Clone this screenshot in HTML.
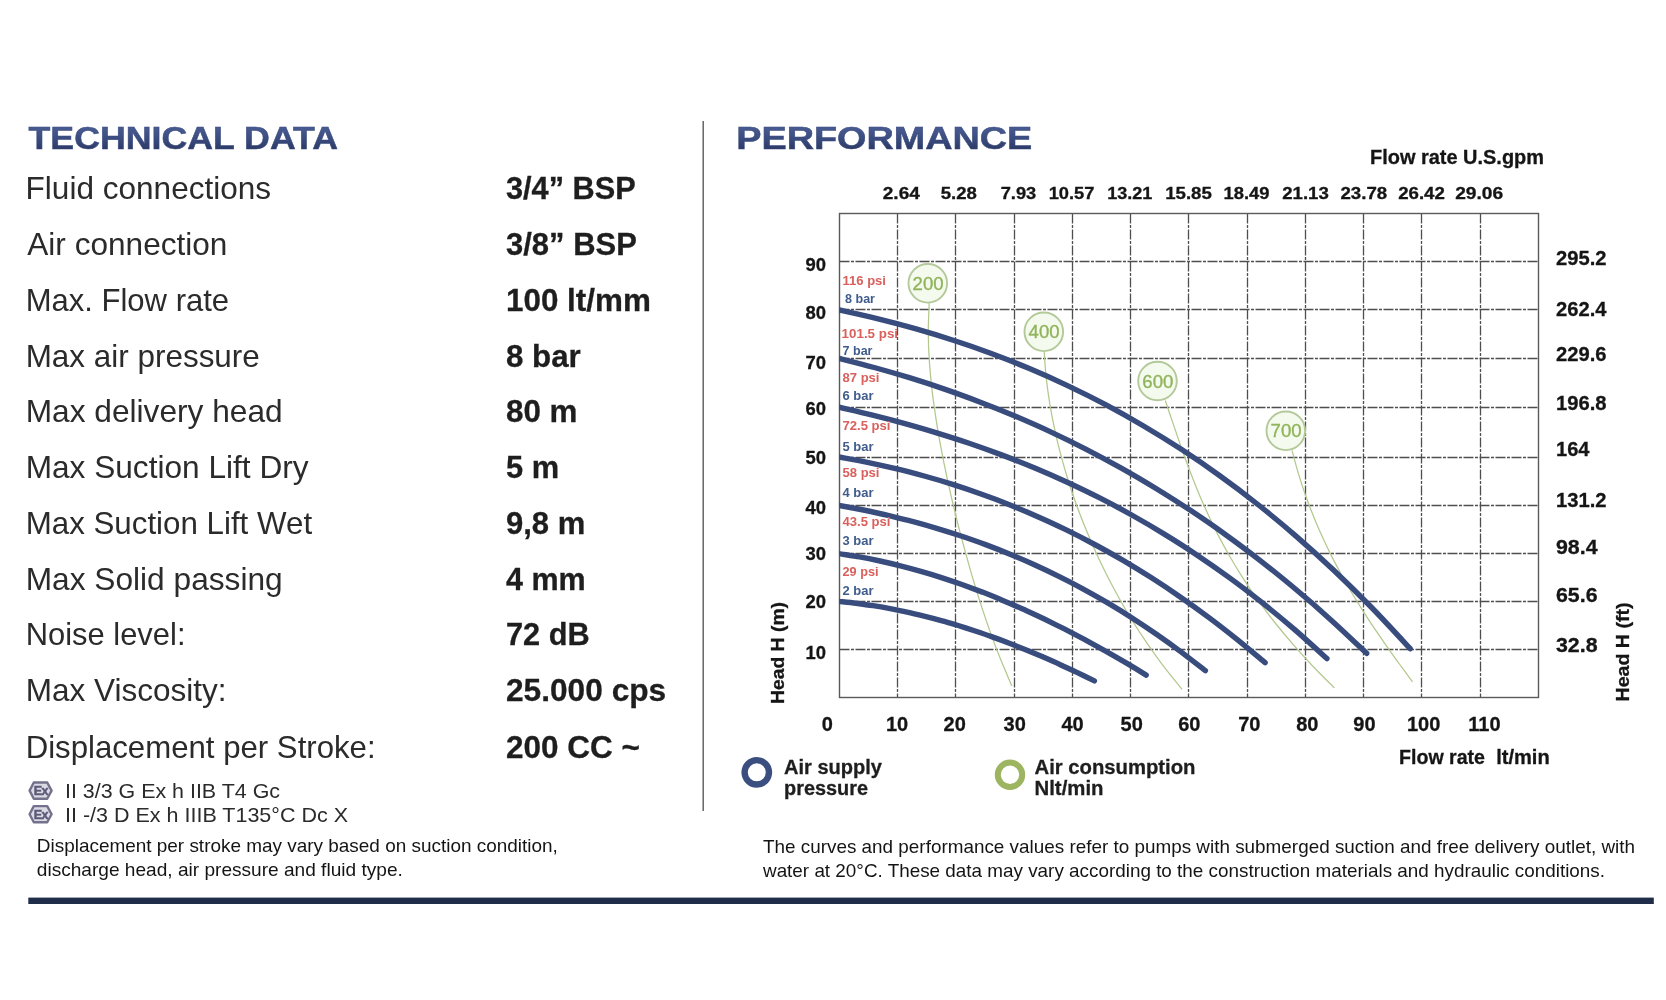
<!DOCTYPE html>
<html lang="en">
<head>
<meta charset="utf-8">
<title>Technical data and performance</title>
<style>
html,body{margin:0;padding:0;background:#fff;}
body{width:1666px;height:1000px;overflow:hidden;}
svg{display:block;font-family:"Liberation Sans",sans-serif;filter:blur(0.45px);}
</style>
</head>
<body>
<svg width="1666" height="1000" viewBox="0 0 1666 1000">
<rect x="0" y="0" width="1666" height="1000" fill="#ffffff"/>
<defs><linearGradient id="tg" gradientUnits="userSpaceOnUse" x1="0" y1="126" x2="0" y2="150"><stop offset="0" stop-color="#4a5d94"/><stop offset="0.55" stop-color="#3a4b7e"/><stop offset="1" stop-color="#2b3963"/></linearGradient></defs>
<text x="28.5" y="148.5" font-size="30.5" font-weight="bold" fill="url(#tg)" text-anchor="start" textLength="309.5" lengthAdjust="spacingAndGlyphs" stroke="#3a4b7e" stroke-width="0.5">TECHNICAL DATA</text>
<text x="736.3" y="148.8" font-size="30.5" font-weight="bold" fill="url(#tg)" text-anchor="start" textLength="296.0" lengthAdjust="spacingAndGlyphs" stroke="#3a4b7e" stroke-width="0.5">PERFORMANCE</text>
<text x="25.6" y="198.7" font-size="31.4" font-weight="normal" fill="#2b2b2b" text-anchor="start" textLength="245.5" lengthAdjust="spacingAndGlyphs">Fluid connections</text>
<text x="506.0" y="198.7" font-size="31.4" font-weight="bold" fill="#1e1e1e" text-anchor="start" textLength="129.7" lengthAdjust="spacingAndGlyphs" stroke="#1e1e1e" stroke-width="0.3">3/4” BSP</text>
<text x="27.3" y="254.9" font-size="31.4" font-weight="normal" fill="#2b2b2b" text-anchor="start" textLength="200.1" lengthAdjust="spacingAndGlyphs">Air connection</text>
<text x="506.0" y="254.9" font-size="31.4" font-weight="bold" fill="#1e1e1e" text-anchor="start" textLength="130.8" lengthAdjust="spacingAndGlyphs" stroke="#1e1e1e" stroke-width="0.3">3/8” BSP</text>
<text x="25.7" y="310.7" font-size="31.4" font-weight="normal" fill="#2b2b2b" text-anchor="start" textLength="203.4" lengthAdjust="spacingAndGlyphs">Max. Flow rate</text>
<text x="506.0" y="310.7" font-size="31.4" font-weight="bold" fill="#1e1e1e" text-anchor="start" textLength="144.8" lengthAdjust="spacingAndGlyphs" stroke="#1e1e1e" stroke-width="0.3">100 lt/mm</text>
<text x="25.7" y="366.8" font-size="31.4" font-weight="normal" fill="#2b2b2b" text-anchor="start" textLength="234.1" lengthAdjust="spacingAndGlyphs">Max air pressure</text>
<text x="506.0" y="366.8" font-size="31.4" font-weight="bold" fill="#1e1e1e" text-anchor="start" textLength="74.8" lengthAdjust="spacingAndGlyphs" stroke="#1e1e1e" stroke-width="0.3">8 bar</text>
<text x="25.7" y="422.2" font-size="31.4" font-weight="normal" fill="#2b2b2b" text-anchor="start" textLength="257.0" lengthAdjust="spacingAndGlyphs">Max delivery head</text>
<text x="506.0" y="422.2" font-size="31.4" font-weight="bold" fill="#1e1e1e" text-anchor="start" textLength="71.5" lengthAdjust="spacingAndGlyphs" stroke="#1e1e1e" stroke-width="0.3">80 m</text>
<text x="25.7" y="478.3" font-size="31.4" font-weight="normal" fill="#2b2b2b" text-anchor="start" textLength="282.9" lengthAdjust="spacingAndGlyphs">Max Suction Lift Dry</text>
<text x="506.0" y="478.3" font-size="31.4" font-weight="bold" fill="#1e1e1e" text-anchor="start" textLength="53.1" lengthAdjust="spacingAndGlyphs" stroke="#1e1e1e" stroke-width="0.3">5 m</text>
<text x="25.7" y="533.5" font-size="31.4" font-weight="normal" fill="#2b2b2b" text-anchor="start" textLength="286.4" lengthAdjust="spacingAndGlyphs">Max Suction Lift Wet</text>
<text x="506.0" y="533.5" font-size="31.4" font-weight="bold" fill="#1e1e1e" text-anchor="start" textLength="79.3" lengthAdjust="spacingAndGlyphs" stroke="#1e1e1e" stroke-width="0.3">9,8 m</text>
<text x="25.7" y="589.7" font-size="31.4" font-weight="normal" fill="#2b2b2b" text-anchor="start" textLength="257.0" lengthAdjust="spacingAndGlyphs">Max Solid passing</text>
<text x="506.0" y="589.7" font-size="31.4" font-weight="bold" fill="#1e1e1e" text-anchor="start" textLength="79.6" lengthAdjust="spacingAndGlyphs" stroke="#1e1e1e" stroke-width="0.3">4 mm</text>
<text x="25.7" y="645.0" font-size="31.4" font-weight="normal" fill="#2b2b2b" text-anchor="start" textLength="159.8" lengthAdjust="spacingAndGlyphs">Noise level:</text>
<text x="506.0" y="645.0" font-size="31.4" font-weight="bold" fill="#1e1e1e" text-anchor="start" textLength="83.7" lengthAdjust="spacingAndGlyphs" stroke="#1e1e1e" stroke-width="0.3">72 dB</text>
<text x="25.7" y="701.2" font-size="31.4" font-weight="normal" fill="#2b2b2b" text-anchor="start" textLength="200.8" lengthAdjust="spacingAndGlyphs">Max Viscosity:</text>
<text x="506.0" y="701.2" font-size="31.4" font-weight="bold" fill="#1e1e1e" text-anchor="start" textLength="160.2" lengthAdjust="spacingAndGlyphs" stroke="#1e1e1e" stroke-width="0.3">25.000 cps</text>
<text x="25.7" y="758.2" font-size="31.4" font-weight="normal" fill="#2b2b2b" text-anchor="start" textLength="349.9" lengthAdjust="spacingAndGlyphs">Displacement per Stroke:</text>
<text x="506.0" y="758.2" font-size="31.4" font-weight="bold" fill="#1e1e1e" text-anchor="start" textLength="134.0" lengthAdjust="spacingAndGlyphs" stroke="#1e1e1e" stroke-width="0.3">200 CC ~</text>
<polygon points="29.6,790.6 33.8,782.5 47.2,782.5 51.6,790.6 47.2,798.7 33.8,798.7" fill="#dcdbe5" stroke="#73718b" stroke-width="2.4" stroke-linejoin="round"/>
<text x="40.7" y="795.0" font-size="12.5" font-weight="bold" fill="#5c5a78" stroke="#5c5a78" stroke-width="0.5" text-anchor="middle" letter-spacing="-0.7">Ex</text>
<polygon points="29.6,814.2 33.8,806.1 47.2,806.1 51.6,814.2 47.2,822.3 33.8,822.3" fill="#dcdbe5" stroke="#73718b" stroke-width="2.4" stroke-linejoin="round"/>
<text x="40.7" y="818.6" font-size="12.5" font-weight="bold" fill="#5c5a78" stroke="#5c5a78" stroke-width="0.5" text-anchor="middle" letter-spacing="-0.7">Ex</text>
<text x="65.0" y="798.0" font-size="21" font-weight="normal" fill="#2b2b2b" text-anchor="start" textLength="215.0" lengthAdjust="spacingAndGlyphs">II 3/3 G Ex h IIB T4 Gc</text>
<text x="65.0" y="822.0" font-size="21" font-weight="normal" fill="#2b2b2b" text-anchor="start" textLength="283.0" lengthAdjust="spacingAndGlyphs">II -/3 D Ex h IIIB T135°C Dc X</text>
<text x="36.8" y="852.4" font-size="19" font-weight="normal" fill="#141414" text-anchor="start" textLength="521.0" lengthAdjust="spacingAndGlyphs">Displacement per stroke may vary based on suction condition,</text>
<text x="36.8" y="876.4" font-size="19" font-weight="normal" fill="#141414" text-anchor="start" textLength="366.0" lengthAdjust="spacingAndGlyphs">discharge head, air pressure and fluid type.</text>
<text x="763.0" y="852.6" font-size="19" font-weight="normal" fill="#141414" text-anchor="start" textLength="872.0" lengthAdjust="spacingAndGlyphs">The curves and performance values refer to pumps with submerged suction and free delivery outlet, with</text>
<text x="763.0" y="876.5" font-size="19" font-weight="normal" fill="#141414" text-anchor="start" textLength="842.0" lengthAdjust="spacingAndGlyphs">water at 20°C. These data may vary according to the construction materials and hydraulic conditions.</text>
<rect x="702.5" y="121" width="1.4" height="690" fill="#5a5a5a"/>
<rect x="28.3" y="897.6" width="1625.5" height="6.4" fill="#1f2d49"/>
<line x1="897.5" y1="213.5" x2="897.5" y2="697.5" stroke="#4e4e4e" stroke-width="1.3" stroke-dasharray="10 1.5 3 1.5"/>
<line x1="955.5" y1="213.5" x2="955.5" y2="697.5" stroke="#4e4e4e" stroke-width="1.3" stroke-dasharray="10 1.5 3 1.5"/>
<line x1="1014.5" y1="213.5" x2="1014.5" y2="697.5" stroke="#4e4e4e" stroke-width="1.3" stroke-dasharray="10 1.5 3 1.5"/>
<line x1="1072.5" y1="213.5" x2="1072.5" y2="697.5" stroke="#4e4e4e" stroke-width="1.3" stroke-dasharray="10 1.5 3 1.5"/>
<line x1="1130.5" y1="213.5" x2="1130.5" y2="697.5" stroke="#4e4e4e" stroke-width="1.3" stroke-dasharray="10 1.5 3 1.5"/>
<line x1="1188.5" y1="213.5" x2="1188.5" y2="697.5" stroke="#4e4e4e" stroke-width="1.3" stroke-dasharray="10 1.5 3 1.5"/>
<line x1="1247.5" y1="213.5" x2="1247.5" y2="697.5" stroke="#4e4e4e" stroke-width="1.3" stroke-dasharray="10 1.5 3 1.5"/>
<line x1="1305.5" y1="213.5" x2="1305.5" y2="697.5" stroke="#4e4e4e" stroke-width="1.3" stroke-dasharray="10 1.5 3 1.5"/>
<line x1="1363.5" y1="213.5" x2="1363.5" y2="697.5" stroke="#4e4e4e" stroke-width="1.3" stroke-dasharray="10 1.5 3 1.5"/>
<line x1="1421.5" y1="213.5" x2="1421.5" y2="697.5" stroke="#4e4e4e" stroke-width="1.3" stroke-dasharray="10 1.5 3 1.5"/>
<line x1="1480.5" y1="213.5" x2="1480.5" y2="697.5" stroke="#4e4e4e" stroke-width="1.3" stroke-dasharray="10 1.5 3 1.5"/>
<line x1="839.5" y1="261.5" x2="1538.5" y2="261.5" stroke="#4e4e4e" stroke-width="1.3" stroke-dasharray="10 1.5 3 1.5"/>
<line x1="839.5" y1="309.5" x2="1538.5" y2="309.5" stroke="#4e4e4e" stroke-width="1.3" stroke-dasharray="10 1.5 3 1.5"/>
<line x1="839.5" y1="358.5" x2="1538.5" y2="358.5" stroke="#4e4e4e" stroke-width="1.3" stroke-dasharray="10 1.5 3 1.5"/>
<line x1="839.5" y1="407.5" x2="1538.5" y2="407.5" stroke="#4e4e4e" stroke-width="1.3" stroke-dasharray="10 1.5 3 1.5"/>
<line x1="839.5" y1="457.5" x2="1538.5" y2="457.5" stroke="#4e4e4e" stroke-width="1.3" stroke-dasharray="10 1.5 3 1.5"/>
<line x1="839.5" y1="505.5" x2="1538.5" y2="505.5" stroke="#4e4e4e" stroke-width="1.3" stroke-dasharray="10 1.5 3 1.5"/>
<line x1="839.5" y1="553.5" x2="1538.5" y2="553.5" stroke="#4e4e4e" stroke-width="1.3" stroke-dasharray="10 1.5 3 1.5"/>
<line x1="839.5" y1="601.5" x2="1538.5" y2="601.5" stroke="#4e4e4e" stroke-width="1.3" stroke-dasharray="10 1.5 3 1.5"/>
<line x1="839.5" y1="649.5" x2="1538.5" y2="649.5" stroke="#4e4e4e" stroke-width="1.3" stroke-dasharray="10 1.5 3 1.5"/>
<rect x="839.5" y="213.5" width="699.0" height="484.0" fill="none" stroke="#5a5a5a" stroke-width="1.4"/>
<path d="M929.2,303.0 C929.1,307.9 928.2,322.6 928.3,332.5 C928.3,342.3 928.7,352.1 929.4,361.9 C930.1,371.7 931.0,381.6 932.2,391.4 C933.3,401.2 934.8,411.0 936.3,420.8 C937.8,430.7 939.6,440.5 941.5,450.3 C943.3,460.1 945.4,469.9 947.5,479.8 C949.6,489.6 951.9,499.4 954.3,509.2 C956.6,519.1 959.1,528.9 961.7,538.7 C964.3,548.5 967.0,558.3 969.8,568.2 C972.6,578.0 975.6,587.8 978.7,597.6 C981.8,607.4 985.1,617.3 988.5,627.1 C992.0,636.9 995.6,646.7 999.5,656.5 C1003.4,666.4 1009.8,681.1 1011.9,686.0" fill="none" stroke="#b3c88e" stroke-width="1.25"/>
<path d="M1044.2,352.0 C1044.5,356.3 1045.3,369.3 1046.2,377.9 C1047.2,386.6 1048.4,395.2 1049.8,403.9 C1051.2,412.5 1052.9,421.2 1054.8,429.8 C1056.6,438.5 1058.8,447.1 1061.1,455.8 C1063.4,464.4 1065.9,473.1 1068.6,481.7 C1071.4,490.4 1074.3,499.0 1077.5,507.7 C1080.7,516.3 1084.1,525.0 1087.7,533.6 C1091.3,542.3 1095.1,550.9 1099.2,559.6 C1103.3,568.2 1107.6,576.9 1112.2,585.5 C1116.8,594.2 1121.6,602.8 1126.7,611.5 C1131.9,620.1 1137.3,628.8 1143.1,637.4 C1148.8,646.1 1154.9,654.7 1161.4,663.4 C1167.8,672.0 1178.5,685.0 1181.9,689.3" fill="none" stroke="#b3c88e" stroke-width="1.25"/>
<path d="M1165.3,400.5 C1166.5,404.2 1170.2,415.2 1172.8,422.6 C1175.3,430.0 1177.7,437.3 1180.3,444.7 C1182.9,452.1 1185.5,459.4 1188.3,466.8 C1191.1,474.2 1193.9,481.5 1196.9,488.9 C1200.0,496.3 1203.1,503.6 1206.5,511.0 C1209.8,518.4 1213.3,525.7 1217.1,533.1 C1220.9,540.5 1224.8,547.8 1229.1,555.2 C1233.3,562.6 1237.7,569.9 1242.5,577.3 C1247.2,584.7 1252.1,592.0 1257.4,599.4 C1262.7,606.8 1268.2,614.1 1274.0,621.5 C1279.9,628.9 1286.0,636.2 1292.4,643.6 C1298.8,651.0 1305.5,658.3 1312.4,665.7 C1319.4,673.1 1330.6,684.1 1334.3,687.8" fill="none" stroke="#b3c88e" stroke-width="1.25"/>
<path d="M1292.0,450.3 C1292.8,453.3 1295.1,462.2 1296.8,468.1 C1298.5,474.0 1300.4,480.0 1302.3,485.9 C1304.3,491.9 1306.4,497.8 1308.6,503.7 C1310.8,509.7 1313.2,515.6 1315.6,521.5 C1318.1,527.5 1320.7,533.4 1323.5,539.3 C1326.2,545.3 1329.1,551.2 1332.1,557.1 C1335.2,563.1 1338.3,569.0 1341.6,575.0 C1344.9,580.9 1348.3,586.8 1351.8,592.8 C1355.3,598.7 1359.0,604.6 1362.8,610.6 C1366.5,616.5 1370.4,622.4 1374.4,628.4 C1378.4,634.3 1382.5,640.2 1386.6,646.2 C1390.8,652.1 1395.0,658.1 1399.4,664.0 C1403.7,669.9 1410.3,678.8 1412.5,681.8" fill="none" stroke="#b3c88e" stroke-width="1.25"/>
<clipPath id="plot"><rect x="839" y="213" width="700" height="485"/></clipPath>
<g clip-path="url(#plot)">
<path d="M839.0,310.0 C845.3,311.4 864.4,315.5 877.1,318.7 C889.8,321.8 902.5,325.1 915.2,328.7 C927.9,332.3 940.5,336.1 953.2,340.3 C965.9,344.4 978.6,348.8 991.3,353.5 C1004.0,358.2 1016.7,363.2 1029.4,368.6 C1042.1,373.9 1054.8,379.6 1067.5,385.6 C1080.2,391.6 1092.9,397.9 1105.6,404.7 C1118.3,411.4 1130.9,418.5 1143.6,426.0 C1156.3,433.5 1169.0,441.3 1181.7,449.6 C1194.4,457.9 1207.1,466.6 1219.8,475.8 C1232.5,484.9 1245.2,494.5 1257.9,504.5 C1270.6,514.6 1283.3,525.1 1296.0,536.1 C1308.7,547.1 1321.3,558.5 1334.0,570.5 C1346.7,582.5 1359.4,595.0 1372.1,608.0 C1384.8,621.0 1403.9,641.9 1410.2,648.7" fill="none" stroke="#394c7e" stroke-width="5.4" stroke-linecap="round"/>
<path d="M839.0,358.4 C844.9,359.9 862.5,364.3 874.2,367.5 C885.9,370.7 897.6,374.1 909.4,377.7 C921.1,381.3 932.8,385.1 944.5,389.1 C956.3,393.2 968.0,397.4 979.7,401.9 C991.4,406.3 1003.2,411.0 1014.9,416.0 C1026.6,421.0 1038.4,426.1 1050.1,431.6 C1061.8,437.1 1073.5,442.8 1085.3,448.8 C1097.0,454.8 1108.7,461.1 1120.4,467.6 C1132.2,474.2 1143.9,481.1 1155.6,488.2 C1167.3,495.4 1179.1,502.8 1190.8,510.6 C1202.5,518.4 1214.3,526.5 1226.0,535.0 C1237.7,543.4 1249.4,552.2 1261.2,561.3 C1272.9,570.5 1284.6,579.9 1296.3,589.8 C1308.1,599.6 1319.8,609.8 1331.5,620.4 C1343.2,631.0 1360.8,647.8 1366.7,653.3" fill="none" stroke="#394c7e" stroke-width="5.4" stroke-linecap="round"/>
<path d="M839.0,407.2 C844.4,408.5 860.7,412.2 871.5,414.9 C882.4,417.6 893.2,420.4 904.1,423.4 C914.9,426.4 925.7,429.5 936.6,432.9 C947.4,436.2 958.3,439.6 969.1,443.3 C979.9,447.0 990.8,450.9 1001.6,454.9 C1012.5,459.0 1023.3,463.3 1034.2,467.8 C1045.0,472.3 1055.8,477.0 1066.7,482.0 C1077.5,487.0 1088.4,492.2 1099.2,497.7 C1110.1,503.2 1120.9,509.0 1131.7,515.0 C1142.6,521.1 1153.4,527.4 1164.3,534.1 C1175.1,540.7 1186.0,547.6 1196.8,554.9 C1207.6,562.1 1218.5,569.7 1229.3,577.6 C1240.2,585.5 1251.0,593.8 1261.8,602.4 C1272.7,611.0 1283.5,620.0 1294.4,629.4 C1305.2,638.7 1321.5,653.7 1326.9,658.6" fill="none" stroke="#394c7e" stroke-width="5.4" stroke-linecap="round"/>
<path d="M839.0,457.0 C843.7,457.9 857.9,460.4 867.4,462.3 C876.9,464.3 886.3,466.4 895.8,468.7 C905.3,470.9 914.8,473.4 924.2,476.0 C933.7,478.6 943.2,481.4 952.6,484.4 C962.1,487.4 971.6,490.6 981.0,494.0 C990.5,497.3 1000.0,500.9 1009.4,504.7 C1018.9,508.5 1028.4,512.5 1037.8,516.7 C1047.3,520.8 1056.8,525.3 1066.3,529.9 C1075.7,534.5 1085.2,539.4 1094.7,544.5 C1104.1,549.5 1113.6,554.9 1123.1,560.4 C1132.5,566.0 1142.0,571.8 1151.5,577.8 C1160.9,583.8 1170.4,590.1 1179.9,596.7 C1189.3,603.2 1198.8,610.0 1208.3,617.1 C1217.8,624.1 1227.2,631.5 1236.7,639.1 C1246.2,646.7 1260.4,658.8 1265.1,662.7" fill="none" stroke="#394c7e" stroke-width="5.4" stroke-linecap="round"/>
<path d="M839.0,505.4 C843.1,506.2 855.3,508.4 863.4,510.0 C871.6,511.7 879.7,513.4 887.9,515.3 C896.0,517.2 904.1,519.3 912.3,521.4 C920.4,523.6 928.6,525.9 936.7,528.3 C944.8,530.7 953.0,533.3 961.1,536.0 C969.3,538.7 977.4,541.6 985.6,544.6 C993.7,547.6 1001.8,550.8 1010.0,554.2 C1018.1,557.5 1026.3,561.0 1034.4,564.7 C1042.6,568.4 1050.7,572.3 1058.8,576.4 C1067.0,580.4 1075.1,584.6 1083.3,589.1 C1091.4,593.5 1099.6,598.1 1107.7,602.9 C1115.8,607.7 1124.0,612.7 1132.1,617.9 C1140.3,623.2 1148.4,628.6 1156.5,634.2 C1164.7,639.9 1172.8,645.7 1181.0,651.8 C1189.1,657.9 1201.3,667.6 1205.4,670.7" fill="none" stroke="#394c7e" stroke-width="5.4" stroke-linecap="round"/>
<path d="M839.0,553.6 C842.4,554.2 852.7,555.7 859.5,556.9 C866.3,558.1 873.1,559.5 880.0,561.0 C886.8,562.5 893.6,564.1 900.4,565.8 C907.3,567.5 914.1,569.4 920.9,571.4 C927.7,573.3 934.6,575.4 941.4,577.6 C948.2,579.8 955.1,582.1 961.9,584.5 C968.7,587.0 975.5,589.5 982.4,592.1 C989.2,594.8 996.0,597.5 1002.8,600.4 C1009.7,603.3 1016.5,606.2 1023.3,609.3 C1030.1,612.4 1037.0,615.5 1043.8,618.8 C1050.6,622.1 1057.5,625.5 1064.3,628.9 C1071.1,632.4 1077.9,636.0 1084.8,639.6 C1091.6,643.3 1098.4,647.1 1105.2,650.9 C1112.1,654.8 1118.9,658.7 1125.7,662.7 C1132.5,666.7 1142.8,673.0 1146.2,675.1" fill="none" stroke="#394c7e" stroke-width="5.4" stroke-linecap="round"/>
<path d="M839.0,601.4 C841.8,601.7 850.4,602.5 856.0,603.2 C861.7,604.0 867.4,604.8 873.1,605.7 C878.7,606.5 884.4,607.5 890.1,608.6 C895.8,609.7 901.4,610.8 907.1,612.1 C912.8,613.3 918.5,614.7 924.1,616.1 C929.8,617.5 935.5,619.0 941.2,620.6 C946.8,622.1 952.5,623.8 958.2,625.5 C963.9,627.3 969.5,629.1 975.2,631.0 C980.9,632.9 986.6,634.8 992.2,636.9 C997.9,638.9 1003.6,641.0 1009.3,643.2 C1014.9,645.4 1020.6,647.6 1026.3,649.9 C1032.0,652.3 1037.6,654.7 1043.3,657.1 C1049.0,659.6 1054.7,662.1 1060.3,664.7 C1066.0,667.2 1071.7,669.9 1077.4,672.6 C1083.0,675.3 1091.6,679.5 1094.4,680.9" fill="none" stroke="#394c7e" stroke-width="5.4" stroke-linecap="round"/>
</g>
<circle cx="927.8" cy="283.3" r="19.3" fill="#f5faef" stroke="#b4c99a" stroke-width="1.9"/>
<text x="928.1" y="289.8" font-size="19" font-weight="normal" fill="#8fb45a" text-anchor="middle" textLength="31.0" lengthAdjust="spacingAndGlyphs" stroke="#8fb45a" stroke-width="0.35">200</text>
<circle cx="1043.8" cy="331.8" r="19.3" fill="#f5faef" stroke="#b4c99a" stroke-width="1.9"/>
<text x="1044.1" y="338.3" font-size="19" font-weight="normal" fill="#8fb45a" text-anchor="middle" textLength="31.0" lengthAdjust="spacingAndGlyphs" stroke="#8fb45a" stroke-width="0.35">400</text>
<circle cx="1157.5" cy="381" r="19.3" fill="#f5faef" stroke="#b4c99a" stroke-width="1.9"/>
<text x="1157.8" y="387.5" font-size="19" font-weight="normal" fill="#8fb45a" text-anchor="middle" textLength="31.0" lengthAdjust="spacingAndGlyphs" stroke="#8fb45a" stroke-width="0.35">600</text>
<circle cx="1285.8" cy="430.8" r="19.3" fill="#f5faef" stroke="#b4c99a" stroke-width="1.9"/>
<text x="1286.1" y="437.3" font-size="19" font-weight="normal" fill="#8fb45a" text-anchor="middle" textLength="31.0" lengthAdjust="spacingAndGlyphs" stroke="#8fb45a" stroke-width="0.35">700</text>
<text x="842.5" y="285.0" font-size="12.3" font-weight="bold" fill="#d9605c" text-anchor="start" textLength="43.5" lengthAdjust="spacingAndGlyphs">116 psi</text>
<text x="845.0" y="302.6" font-size="12.3" font-weight="bold" fill="#3f5c8d" text-anchor="start" textLength="30.0" lengthAdjust="spacingAndGlyphs">8 bar</text>
<text x="841.6" y="338.0" font-size="12.3" font-weight="bold" fill="#d9605c" text-anchor="start" textLength="56.5" lengthAdjust="spacingAndGlyphs">101.5 psi</text>
<text x="842.5" y="354.5" font-size="12.3" font-weight="bold" fill="#3f5c8d" text-anchor="start" textLength="30.0" lengthAdjust="spacingAndGlyphs">7 bar</text>
<text x="842.5" y="382.4" font-size="12.3" font-weight="bold" fill="#d9605c" text-anchor="start" textLength="37.0" lengthAdjust="spacingAndGlyphs">87 psi</text>
<text x="842.5" y="400.4" font-size="12.3" font-weight="bold" fill="#3f5c8d" text-anchor="start" textLength="31.0" lengthAdjust="spacingAndGlyphs">6 bar</text>
<text x="842.5" y="430.4" font-size="12.3" font-weight="bold" fill="#d9605c" text-anchor="start" textLength="48.0" lengthAdjust="spacingAndGlyphs">72.5 psi</text>
<text x="842.5" y="450.5" font-size="12.3" font-weight="bold" fill="#3f5c8d" text-anchor="start" textLength="31.0" lengthAdjust="spacingAndGlyphs">5 bar</text>
<text x="842.5" y="476.6" font-size="12.3" font-weight="bold" fill="#d9605c" text-anchor="start" textLength="37.0" lengthAdjust="spacingAndGlyphs">58 psi</text>
<text x="842.5" y="497.0" font-size="12.3" font-weight="bold" fill="#3f5c8d" text-anchor="start" textLength="31.0" lengthAdjust="spacingAndGlyphs">4 bar</text>
<text x="842.5" y="525.5" font-size="12.3" font-weight="bold" fill="#d9605c" text-anchor="start" textLength="48.0" lengthAdjust="spacingAndGlyphs">43.5 psi</text>
<text x="842.5" y="545.0" font-size="12.3" font-weight="bold" fill="#3f5c8d" text-anchor="start" textLength="31.0" lengthAdjust="spacingAndGlyphs">3 bar</text>
<text x="842.5" y="575.6" font-size="12.3" font-weight="bold" fill="#d9605c" text-anchor="start" textLength="36.0" lengthAdjust="spacingAndGlyphs">29 psi</text>
<text x="842.5" y="594.5" font-size="12.3" font-weight="bold" fill="#3f5c8d" text-anchor="start" textLength="31.0" lengthAdjust="spacingAndGlyphs">2 bar</text>
<text x="826.0" y="270.5" font-size="19" font-weight="bold" fill="#151515" text-anchor="end" textLength="20.5" lengthAdjust="spacingAndGlyphs" stroke="#151515" stroke-width="0.3">90</text>
<text x="826.0" y="318.5" font-size="19" font-weight="bold" fill="#151515" text-anchor="end" textLength="20.5" lengthAdjust="spacingAndGlyphs" stroke="#151515" stroke-width="0.3">80</text>
<text x="826.0" y="368.6" font-size="19" font-weight="bold" fill="#151515" text-anchor="end" textLength="20.5" lengthAdjust="spacingAndGlyphs" stroke="#151515" stroke-width="0.3">70</text>
<text x="826.0" y="415.4" font-size="19" font-weight="bold" fill="#151515" text-anchor="end" textLength="20.5" lengthAdjust="spacingAndGlyphs" stroke="#151515" stroke-width="0.3">60</text>
<text x="826.0" y="464.0" font-size="19" font-weight="bold" fill="#151515" text-anchor="end" textLength="20.5" lengthAdjust="spacingAndGlyphs" stroke="#151515" stroke-width="0.3">50</text>
<text x="826.0" y="514.1" font-size="19" font-weight="bold" fill="#151515" text-anchor="end" textLength="20.5" lengthAdjust="spacingAndGlyphs" stroke="#151515" stroke-width="0.3">40</text>
<text x="826.0" y="560.0" font-size="19" font-weight="bold" fill="#151515" text-anchor="end" textLength="20.5" lengthAdjust="spacingAndGlyphs" stroke="#151515" stroke-width="0.3">30</text>
<text x="826.0" y="608.0" font-size="19" font-weight="bold" fill="#151515" text-anchor="end" textLength="20.5" lengthAdjust="spacingAndGlyphs" stroke="#151515" stroke-width="0.3">20</text>
<text x="826.0" y="659.0" font-size="19" font-weight="bold" fill="#151515" text-anchor="end" textLength="20.5" lengthAdjust="spacingAndGlyphs" stroke="#151515" stroke-width="0.3">10</text>
<text x="1556.0" y="265.4" font-size="19.5" font-weight="bold" fill="#151515" text-anchor="start" textLength="50.5" lengthAdjust="spacingAndGlyphs" stroke="#151515" stroke-width="0.3">295.2</text>
<text x="1556.0" y="315.6" font-size="19.5" font-weight="bold" fill="#151515" text-anchor="start" textLength="50.5" lengthAdjust="spacingAndGlyphs" stroke="#151515" stroke-width="0.3">262.4</text>
<text x="1556.0" y="360.8" font-size="19.5" font-weight="bold" fill="#151515" text-anchor="start" textLength="50.5" lengthAdjust="spacingAndGlyphs" stroke="#151515" stroke-width="0.3">229.6</text>
<text x="1556.0" y="409.7" font-size="19.5" font-weight="bold" fill="#151515" text-anchor="start" textLength="50.5" lengthAdjust="spacingAndGlyphs" stroke="#151515" stroke-width="0.3">196.8</text>
<text x="1556.0" y="455.8" font-size="19.5" font-weight="bold" fill="#151515" text-anchor="start" textLength="33.5" lengthAdjust="spacingAndGlyphs" stroke="#151515" stroke-width="0.3">164</text>
<text x="1556.0" y="507.4" font-size="19.5" font-weight="bold" fill="#151515" text-anchor="start" textLength="50.5" lengthAdjust="spacingAndGlyphs" stroke="#151515" stroke-width="0.3">131.2</text>
<text x="1556.0" y="553.9" font-size="19.5" font-weight="bold" fill="#151515" text-anchor="start" textLength="41.5" lengthAdjust="spacingAndGlyphs" stroke="#151515" stroke-width="0.3">98.4</text>
<text x="1556.0" y="601.6" font-size="19.5" font-weight="bold" fill="#151515" text-anchor="start" textLength="41.5" lengthAdjust="spacingAndGlyphs" stroke="#151515" stroke-width="0.3">65.6</text>
<text x="1556.0" y="651.7" font-size="19.5" font-weight="bold" fill="#151515" text-anchor="start" textLength="41.5" lengthAdjust="spacingAndGlyphs" stroke="#151515" stroke-width="0.3">32.8</text>
<text x="827.2" y="731.0" font-size="20" font-weight="bold" fill="#151515" text-anchor="middle" stroke="#151515" stroke-width="0.3">0</text>
<text x="897.0" y="731.0" font-size="20" font-weight="bold" fill="#151515" text-anchor="middle" stroke="#151515" stroke-width="0.3">10</text>
<text x="954.7" y="731.0" font-size="20" font-weight="bold" fill="#151515" text-anchor="middle" stroke="#151515" stroke-width="0.3">20</text>
<text x="1014.7" y="731.0" font-size="20" font-weight="bold" fill="#151515" text-anchor="middle" stroke="#151515" stroke-width="0.3">30</text>
<text x="1072.5" y="731.0" font-size="20" font-weight="bold" fill="#151515" text-anchor="middle" stroke="#151515" stroke-width="0.3">40</text>
<text x="1131.7" y="731.0" font-size="20" font-weight="bold" fill="#151515" text-anchor="middle" stroke="#151515" stroke-width="0.3">50</text>
<text x="1189.3" y="731.0" font-size="20" font-weight="bold" fill="#151515" text-anchor="middle" stroke="#151515" stroke-width="0.3">60</text>
<text x="1249.3" y="731.0" font-size="20" font-weight="bold" fill="#151515" text-anchor="middle" stroke="#151515" stroke-width="0.3">70</text>
<text x="1307.3" y="731.0" font-size="20" font-weight="bold" fill="#151515" text-anchor="middle" stroke="#151515" stroke-width="0.3">80</text>
<text x="1364.4" y="731.0" font-size="20" font-weight="bold" fill="#151515" text-anchor="middle" stroke="#151515" stroke-width="0.3">90</text>
<text x="1423.6" y="731.0" font-size="20" font-weight="bold" fill="#151515" text-anchor="middle" stroke="#151515" stroke-width="0.3">100</text>
<text x="1484.4" y="731.0" font-size="20" font-weight="bold" fill="#151515" text-anchor="middle" stroke="#151515" stroke-width="0.3">110</text>
<text x="882.8" y="198.6" font-size="16" font-weight="bold" fill="#151515" text-anchor="start" textLength="37.0" lengthAdjust="spacingAndGlyphs" stroke="#151515" stroke-width="0.3">2.64</text>
<text x="940.7" y="198.6" font-size="16" font-weight="bold" fill="#151515" text-anchor="start" textLength="36.1" lengthAdjust="spacingAndGlyphs" stroke="#151515" stroke-width="0.3">5.28</text>
<text x="1000.7" y="198.6" font-size="16" font-weight="bold" fill="#151515" text-anchor="start" textLength="35.5" lengthAdjust="spacingAndGlyphs" stroke="#151515" stroke-width="0.3">7.93</text>
<text x="1048.7" y="198.6" font-size="16" font-weight="bold" fill="#151515" text-anchor="start" textLength="45.7" lengthAdjust="spacingAndGlyphs" stroke="#151515" stroke-width="0.3">10.57</text>
<text x="1107.2" y="198.6" font-size="16" font-weight="bold" fill="#151515" text-anchor="start" textLength="45.1" lengthAdjust="spacingAndGlyphs" stroke="#151515" stroke-width="0.3">13.21</text>
<text x="1165.2" y="198.6" font-size="16" font-weight="bold" fill="#151515" text-anchor="start" textLength="46.6" lengthAdjust="spacingAndGlyphs" stroke="#151515" stroke-width="0.3">15.85</text>
<text x="1223.6" y="198.6" font-size="16" font-weight="bold" fill="#151515" text-anchor="start" textLength="45.9" lengthAdjust="spacingAndGlyphs" stroke="#151515" stroke-width="0.3">18.49</text>
<text x="1282.2" y="198.6" font-size="16" font-weight="bold" fill="#151515" text-anchor="start" textLength="46.6" lengthAdjust="spacingAndGlyphs" stroke="#151515" stroke-width="0.3">21.13</text>
<text x="1340.5" y="198.6" font-size="16" font-weight="bold" fill="#151515" text-anchor="start" textLength="46.6" lengthAdjust="spacingAndGlyphs" stroke="#151515" stroke-width="0.3">23.78</text>
<text x="1398.2" y="198.6" font-size="16" font-weight="bold" fill="#151515" text-anchor="start" textLength="46.6" lengthAdjust="spacingAndGlyphs" stroke="#151515" stroke-width="0.3">26.42</text>
<text x="1455.2" y="198.6" font-size="16" font-weight="bold" fill="#151515" text-anchor="start" textLength="47.9" lengthAdjust="spacingAndGlyphs" stroke="#151515" stroke-width="0.3">29.06</text>
<text x="1370.0" y="164.3" font-size="20" font-weight="bold" fill="#151515" text-anchor="start" textLength="174.0" lengthAdjust="spacingAndGlyphs" stroke="#151515" stroke-width="0.3">Flow rate U.S.gpm</text>
<text x="1399.0" y="763.6" font-size="20" font-weight="bold" fill="#151515" text-anchor="start" textLength="86.0" lengthAdjust="spacingAndGlyphs" stroke="#151515" stroke-width="0.3">Flow rate</text>
<text x="1496.2" y="763.6" font-size="20" font-weight="bold" fill="#151515" text-anchor="start" textLength="53.5" lengthAdjust="spacingAndGlyphs" stroke="#151515" stroke-width="0.3">lt/min</text>
<text transform="translate(784,704) rotate(-90)" font-size="18.5" font-weight="bold" fill="#151515" stroke="#151515" stroke-width="0.3" textLength="102" lengthAdjust="spacingAndGlyphs">Head H (m)</text>
<text transform="translate(1629.2,701.5) rotate(-90)" font-size="18.5" font-weight="bold" fill="#151515" stroke="#151515" stroke-width="0.3" textLength="99" lengthAdjust="spacingAndGlyphs">Head H (ft)</text>
<circle cx="756.8" cy="772.3" r="12.2" fill="none" stroke="#3a4e80" stroke-width="6.4"/>
<circle cx="1010" cy="774.7" r="12.2" fill="none" stroke="#9db560" stroke-width="6"/>
<text x="784.0" y="773.8" font-size="20" font-weight="bold" fill="#1e1e1e" text-anchor="start" textLength="98.0" lengthAdjust="spacingAndGlyphs" stroke="#1e1e1e" stroke-width="0.3">Air supply</text>
<text x="784.0" y="795.4" font-size="20" font-weight="bold" fill="#1e1e1e" text-anchor="start" textLength="84.0" lengthAdjust="spacingAndGlyphs" stroke="#1e1e1e" stroke-width="0.3">pressure</text>
<text x="1034.5" y="773.8" font-size="20" font-weight="bold" fill="#1e1e1e" text-anchor="start" textLength="161.0" lengthAdjust="spacingAndGlyphs" stroke="#1e1e1e" stroke-width="0.3">Air consumption</text>
<text x="1034.5" y="795.4" font-size="20" font-weight="bold" fill="#1e1e1e" text-anchor="start" textLength="69.0" lengthAdjust="spacingAndGlyphs" stroke="#1e1e1e" stroke-width="0.3">Nlt/min</text>
</svg>
</body>
</html>
